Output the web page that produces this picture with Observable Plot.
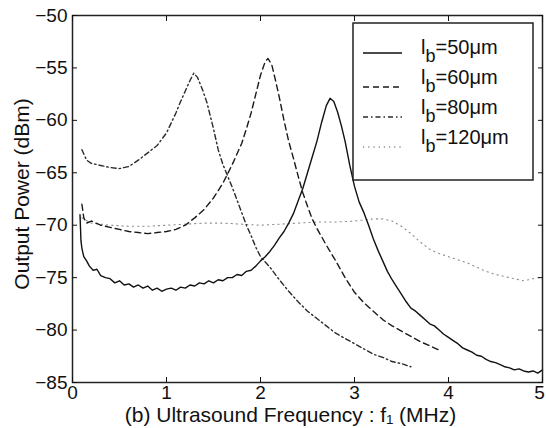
<!DOCTYPE html>
<html><head><meta charset="utf-8">
<script src="https://cdn.jsdelivr.net/npm/d3@7"></script>
<script src="https://cdn.jsdelivr.net/npm/@observablehq/plot@0.6"></script>
<style>body{margin:0;background:#fff}</style>
</head><body><div id="chart"></div>
<script>
const xTicks = [0, 1, 2, 3, 4, 5];
const yTicks = [-85, -80, -75, -70, -65, -60, -55, -50];
const xLabel = "(b) Ultrasound Frequency : f\u2081 (MHz)";
const yLabel = "Output Power (dBm)";
const legendValues = ["=50\u03bcm", "=60\u03bcm", "=80\u03bcm", "=120\u03bcm"];

// l_b = 50 um (solid)
const f50 = [0.08,0.09,0.10,0.12,0.15,0.18,0.22,0.26,0.30,0.35,0.40,0.45,0.50,0.55,0.60,0.65,0.70,0.75,0.80,0.85,0.90,0.95,1.00,1.05,1.10,1.15,1.20,1.25,1.30,1.35,1.40,1.45,1.50,1.55,1.60,1.65,1.70,1.75,1.80,1.85,1.90,1.95,2.00,2.05,2.10,2.15,2.20,2.25,2.30,2.35,2.40,2.45,2.50,2.55,2.60,2.65,2.70,2.74,2.78,2.82,2.86,2.90,2.95,3.00,3.05,3.10,3.15,3.20,3.25,3.30,3.35,3.40,3.45,3.50,3.55,3.60,3.65,3.70,3.75,3.80,3.85,3.90,3.95,4.00,4.05,4.10,4.15,4.20,4.25,4.30,4.35,4.40,4.45,4.50,4.55,4.60,4.65,4.70,4.75,4.80,4.85,4.90,4.95,5.00];
const p50 = [-69.0,-71.5,-72.2,-73.0,-73.4,-73.9,-74.3,-74.2,-74.8,-75.0,-75.1,-75.5,-75.3,-75.7,-75.6,-75.9,-75.7,-76.0,-75.8,-76.2,-76.0,-76.3,-76.1,-76.0,-76.2,-75.9,-76.0,-75.7,-75.8,-75.5,-75.6,-75.3,-75.5,-75.2,-75.3,-75.0,-75.0,-74.7,-74.8,-74.4,-74.3,-73.9,-73.4,-73.0,-72.5,-71.9,-71.2,-70.6,-69.8,-68.9,-67.7,-66.5,-65.0,-63.5,-62.0,-60.2,-58.6,-57.9,-58.2,-59.2,-60.5,-62.0,-64.3,-66.3,-67.8,-68.8,-70.0,-71.3,-72.4,-73.4,-74.4,-75.2,-75.9,-76.6,-77.3,-77.9,-78.2,-78.6,-79.0,-79.4,-79.6,-80.0,-80.4,-80.7,-81.0,-81.3,-81.7,-81.9,-82.1,-82.4,-82.5,-82.8,-83.0,-83.1,-83.3,-83.5,-83.6,-83.8,-83.7,-83.9,-84.0,-83.9,-84.1,-83.8];

// l_b = 60 um (dashed)
const f60 = [0.10,0.12,0.15,0.20,0.30,0.40,0.50,0.60,0.70,0.80,0.90,1.00,1.10,1.20,1.30,1.40,1.50,1.60,1.70,1.80,1.85,1.90,1.95,2.00,2.05,2.08,2.12,2.16,2.20,2.25,2.30,2.35,2.40,2.45,2.50,2.55,2.60,2.70,2.80,2.90,3.00,3.10,3.20,3.30,3.40,3.50,3.60,3.70,3.80,3.90];
const p60 = [-68.0,-69.3,-69.8,-69.6,-70.0,-70.2,-70.4,-70.6,-70.7,-70.8,-70.7,-70.6,-70.4,-70.0,-69.3,-68.5,-67.4,-66.0,-64.2,-62.2,-60.8,-59.3,-57.5,-55.7,-54.4,-54.1,-54.7,-56.2,-57.8,-60.0,-62.0,-63.6,-65.3,-66.9,-68.2,-69.4,-70.3,-71.9,-73.4,-75.0,-76.4,-77.4,-78.2,-79.0,-79.6,-80.1,-80.6,-81.1,-81.5,-81.9];

// l_b = 80 um (dash-dot)
const f80 = [0.10,0.15,0.20,0.30,0.40,0.50,0.60,0.70,0.80,0.90,1.00,1.10,1.15,1.20,1.25,1.29,1.33,1.38,1.43,1.50,1.55,1.60,1.65,1.70,1.75,1.80,1.85,1.90,1.95,2.00,2.10,2.20,2.30,2.40,2.50,2.60,2.70,2.80,2.90,3.00,3.10,3.20,3.30,3.40,3.50,3.60];
const p80 = [-62.8,-63.8,-64.1,-64.3,-64.5,-64.6,-64.4,-63.8,-63.1,-62.4,-61.2,-59.3,-58.2,-57.2,-56.2,-55.5,-55.9,-57.0,-58.3,-60.8,-62.8,-64.2,-65.3,-66.4,-67.6,-68.8,-70.0,-71.0,-72.1,-73.0,-74.0,-75.2,-76.3,-77.3,-78.2,-78.9,-79.6,-80.3,-80.8,-81.3,-81.8,-82.3,-82.6,-83.0,-83.2,-83.5];

// l_b = 120 um (dotted)
const f120 = [0.10,0.20,0.40,0.60,0.80,1.00,1.20,1.40,1.60,1.80,2.00,2.20,2.40,2.60,2.80,3.00,3.20,3.30,3.40,3.50,3.60,3.70,3.80,3.90,4.00,4.10,4.20,4.30,4.40,4.50,4.60,4.70,4.80,4.90,5.00];
const p120 = [-69.3,-69.8,-70.0,-70.1,-70.1,-70.0,-69.9,-69.8,-69.8,-69.9,-70.0,-69.9,-69.8,-69.7,-69.7,-69.6,-69.4,-69.4,-69.6,-70.1,-70.8,-71.6,-72.3,-72.7,-73.0,-73.3,-73.6,-74.0,-74.4,-74.7,-74.9,-75.1,-75.3,-75.1,-74.9];

const rows = (fs, ps) => fs.map((f, i) => ({f, p: ps[i]}));
const minus = d => (d < 0 ? "\u2212" : "") + Math.abs(d);
const FONT = "'Liberation Sans', Arial, sans-serif";
const lastX = xTicks[xTicks.length - 1];

const chart = Plot.plot({
  width: 546, height: 428,
  marginLeft: 72, marginRight: 4, marginTop: 15, marginBottom: 46,
  x: {domain: [0, 5]},
  y: {domain: [-85, -50]},
  style: {fontFamily: FONT, fontSize: "19px", background: "#fff", color: "#111"},
  marks: [
    Plot.line(rows(f120, p120), {x: "f", y: "p", stroke: "#8a8a8a", strokeWidth: 1.1, strokeDasharray: "1.2,4"}),
    Plot.line(rows(f80, p80), {x: "f", y: "p", stroke: "#2a2a2a", strokeWidth: 1.4, strokeDasharray: "5,3,1.5,3"}),
    Plot.line(rows(f60, p60), {x: "f", y: "p", stroke: "#1a1a1a", strokeWidth: 1.4, strokeDasharray: "6,4"}),
    Plot.line(rows(f50, p50), {x: "f", y: "p", stroke: "#111", strokeWidth: 1.4}),
    Plot.frame({stroke: "#222", strokeWidth: 1.5}),
    Plot.axisX({anchor: "bottom", ticks: xTicks, tickSize: -5, label: null, tickFormat: () => ""}),
    Plot.axisX({anchor: "bottom", ticks: xTicks.filter(d => d !== lastX), tickSize: 0, tickPadding: 3, label: null, tickFormat: d => String(d)}),
    Plot.axisX({anchor: "bottom", ticks: [lastX], tickSize: 0, tickPadding: 3, dx: -3, label: null, tickFormat: d => String(d)}),
    Plot.axisX({anchor: "top", ticks: xTicks, tickSize: -5, label: null, tickFormat: () => ""}),
    Plot.axisY({anchor: "left", ticks: yTicks, tickSize: -5, tickPadding: 10, label: null, tickFormat: minus}),
    Plot.axisY({anchor: "right", ticks: yTicks, tickSize: -5, label: null, tickFormat: () => ""}),
    Plot.text([xLabel], {text: d => d, frameAnchor: "bottom", dy: 39, dx: -17, fontSize: 21}),
    Plot.text([yLabel], {text: d => d, frameAnchor: "left", textAnchor: "middle", dx: -50, dy: -5, rotate: -90, fontSize: 21})
  ]
});
document.getElementById("chart").appendChild(chart);

// legend box
const svg = d3.select(chart);
const lg = svg.append("g").attr("font-family", FONT).attr("font-size", 20).attr("fill", "#111").attr("text-anchor", "start");
lg.append("rect").attr("x", 353).attr("y", 23).attr("width", 180).attr("height", 157)
  .attr("fill", "#fff").attr("stroke", "#222").attr("stroke-width", 1.5);
const dashes = [null, "6,4", "5,3,1.5,3", "1.2,4"];
const strokes = ["#111", "#1a1a1a", "#2a2a2a", "#8a8a8a"];
legendValues.forEach((v, i) => {
  const ty = 54 + i * 30;
  const ly = [53, 87, 117, 147][i];
  const ln = lg.append("line").attr("x1", 363).attr("x2", 402).attr("y1", ly).attr("y2", ly)
    .attr("stroke", strokes[i]).attr("stroke-width", 1.4);
  if (dashes[i]) ln.attr("stroke-dasharray", dashes[i]);
  const t = lg.append("text").attr("x", 421).attr("y", ty);
  t.append("tspan").text("l");
  t.append("tspan").attr("font-size", 18).attr("dy", 8).text("b");
  t.append("tspan").attr("dy", -8).text(v);
});
</script>
</body></html>
